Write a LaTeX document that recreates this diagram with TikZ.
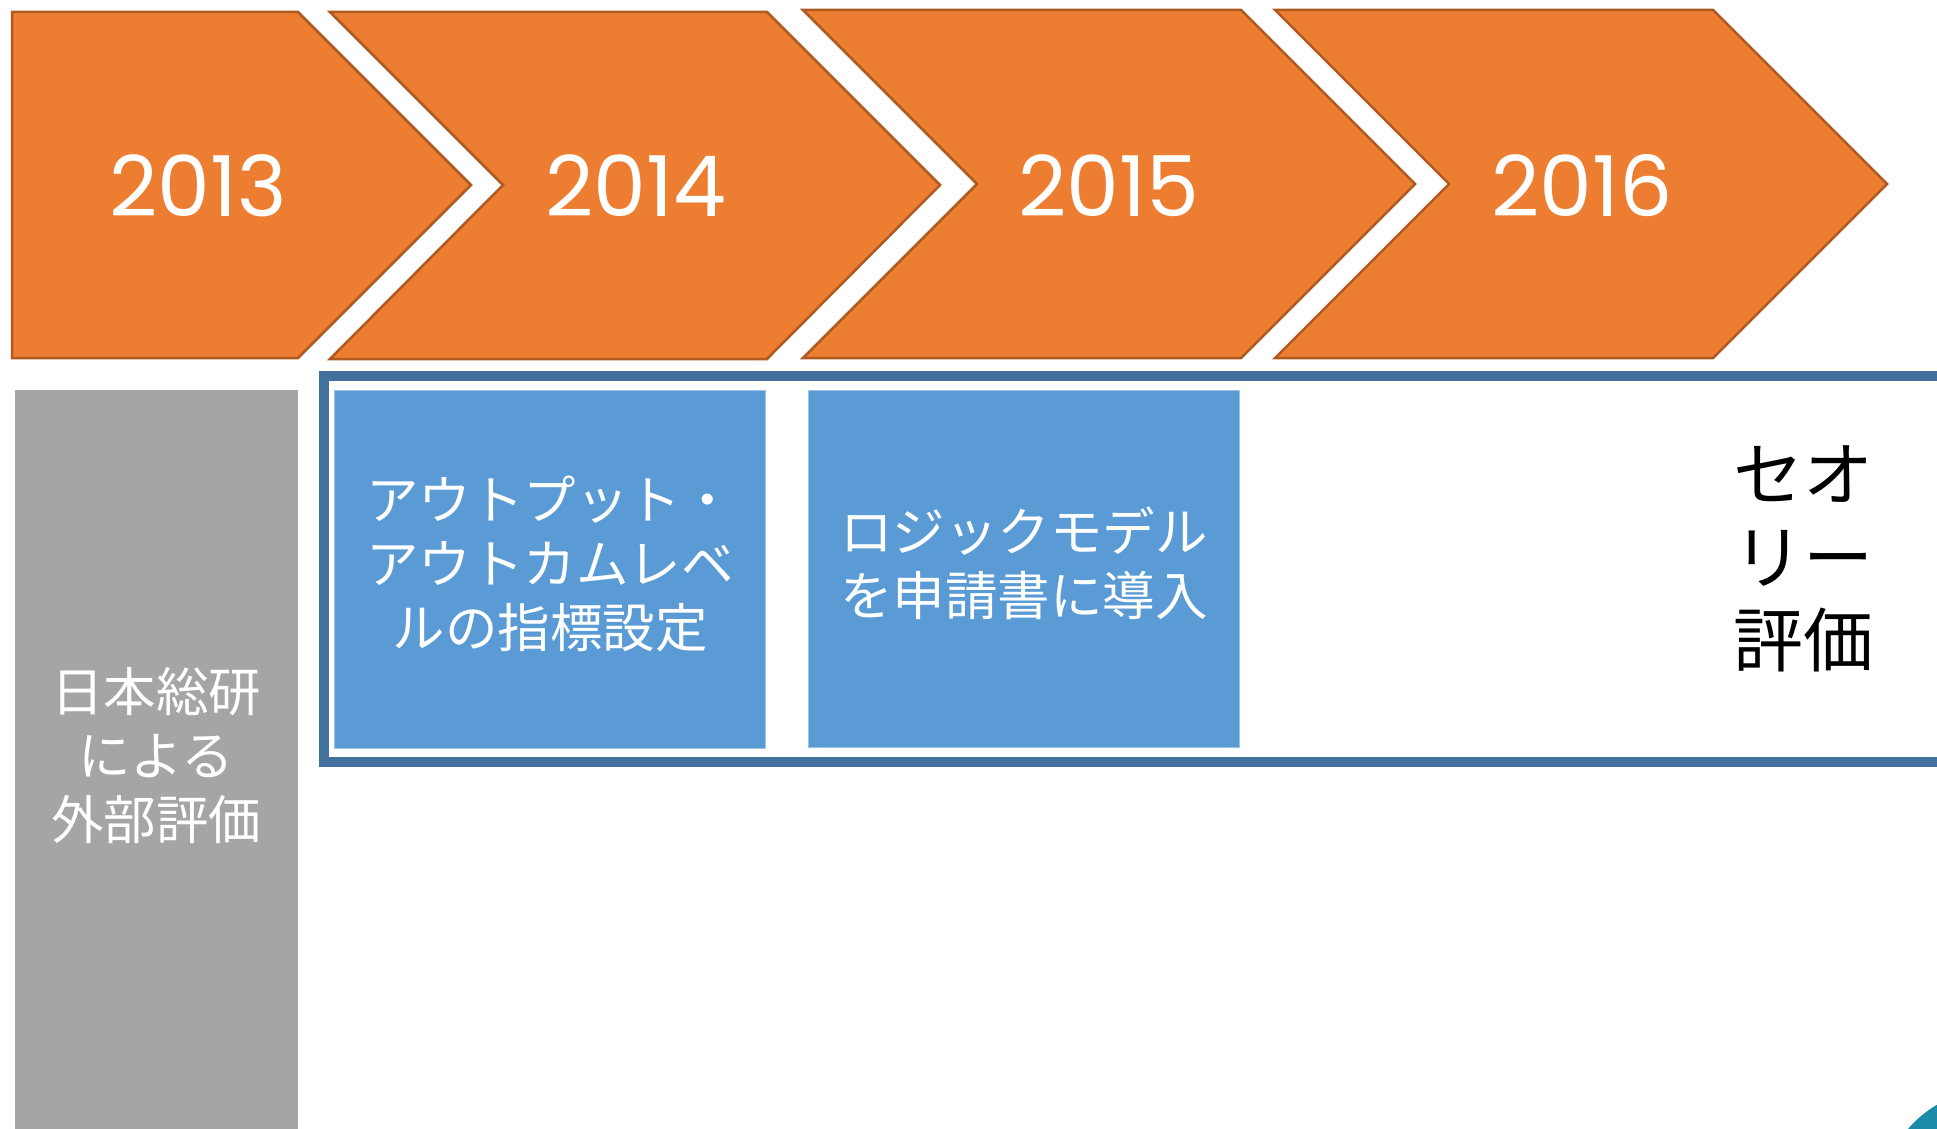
\documentclass[tikz,border=0pt]{standalone}
\usepackage{fontspec}
\newfontfamily\jpfont{Noto Sans CJK JP}
\newfontfamily\yrfont{Poppins}
\definecolor{chevfill}{HTML}{ED7D31}
\definecolor{chevline}{HTML}{AE5A21}
\definecolor{boxblue}{HTML}{5B9BD5}
\definecolor{frameblue}{HTML}{41719C}
\definecolor{greybox}{HTML}{A5A5A5}
\definecolor{tealblob}{HTML}{1B8BA8}
\tikzset{
  chev/.style={fill=chevfill, draw=chevline, line width=2.5pt, line join=miter},
  yeartext/.style={text=white, font=\yrfont\fontsize{84}{84}\selectfont, inner sep=0pt},
  jptext/.style={text=white, align=center, inner sep=0pt, font=\jpfont\fontsize{52.5}{64}\selectfont},
  bigjp/.style={text=black, align=center, inner sep=0pt, font=\jpfont\fontsize{70}{83}\selectfont},
  taskbox/.style={fill=boxblue, draw=boxblue!60!white, line width=1pt},
}
\begin{document}
\begin{tikzpicture}[x=1pt, y=-1pt]
\useasboundingbox (0,0) rectangle (1937,1129);
\begin{scope}
\clip (0,0) rectangle (1937,1129);
% chevrons
\draw[chev] (12,12) -- (298,12) -- (471,185) -- (298,358) -- (12,358) -- cycle;
\draw[chev] (330,12) -- (767,12) -- (940,185) -- (767,359) -- (330,359) -- (503,185) -- cycle;
\draw[chev] (803,10) -- (1241,10) -- (1415,184) -- (1241,358) -- (803,358) -- (977,184) -- cycle;
\draw[chev] (1275,10) -- (1713,10) -- (1887,184) -- (1713,358) -- (1275,358) -- (1449,184) -- cycle;
\node[yeartext] (y2013) at (198,186) {2013};
\node[yeartext] (y2014) at (636,186) {2014};
\node[yeartext] (y2015) at (1109,186) {2015};
\node[yeartext] (y2016) at (1582,186) {2016};
% grey external evaluation bar
\fill[greybox] (15,390) rectangle (298,1140);
\node[jptext] (ext) at (156,756) {日本総研\\による\\外部評価};
% blue frame
\draw[frameblue, line width=10pt] (324,376) rectangle (2100,762);
% task boxes
\draw[taskbox] (334,390) rectangle (765,748);
\node[jptext] (task1) at (550,564) {アウトプット・\\アウトカムレベ\\ルの指標設定};
\draw[taskbox] (808,390) rectangle (1239,747);
\node[jptext] (task2) at (1024,563) {ロジックモデル\\を申請書に導入};
\node[bigjp] (theory) at (1803,559) {セオ\\リー\\評価};
% teal corner blob
\fill[tealblob] (1992,1200) circle (110);
\end{scope}
\end{tikzpicture}
\end{document}
